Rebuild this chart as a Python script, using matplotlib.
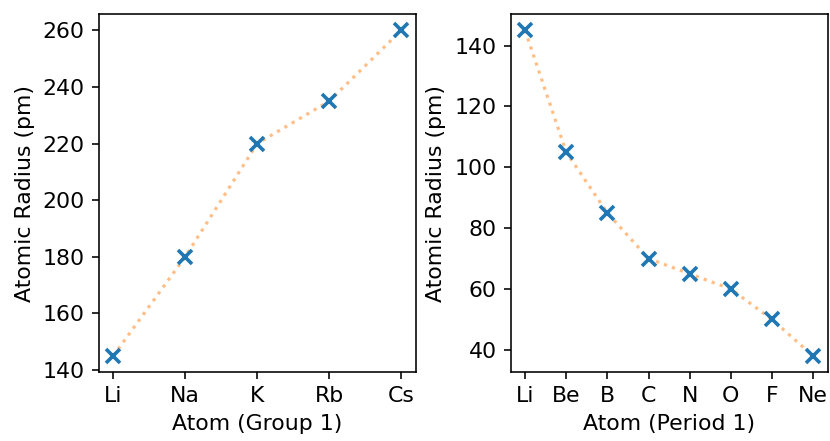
import matplotlib
matplotlib.use("Agg")
import matplotlib.pyplot as plt

group_atoms = ["Li", "Na", "K", "Rb", "Cs"]
group_radius = [145, 180, 220, 235, 260]

period_atoms = ["Li", "Be", "B", "C", "N", "O", "F", "Ne"]
period_radius = [145, 105, 85, 70, 65, 60, 50, 38]

plt.rcParams["font.size"] = 11

fig, (ax1, ax2) = plt.subplots(1, 2, figsize=(830 / 144, 441 / 144), dpi=144)

ax1.plot(group_atoms, group_radius, ":", color="C1", alpha=0.5, linewidth=1.6)
ax1.plot(group_atoms, group_radius, "x", color="C0", markersize=7, markeredgewidth=1.8)
ax1.set_xlabel("Atom (Group 1)")
ax1.set_ylabel("Atomic Radius (pm)")

ax2.plot(period_atoms, period_radius, ":", color="C1", alpha=0.5, linewidth=1.6)
ax2.plot(period_atoms, period_radius, "x", color="C0", markersize=7, markeredgewidth=1.8)
ax2.set_xlabel("Atom (Period 1)")
ax2.set_ylabel("Atomic Radius (pm)")

fig.subplots_adjust(left=0.119, right=0.997, top=0.968, bottom=0.156, wspace=0.30)
fig.savefig("out.png", dpi=144)
